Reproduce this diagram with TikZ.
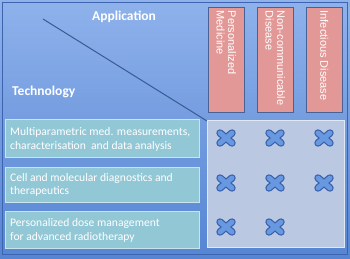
\documentclass[tikz,border=0pt]{standalone}
\usepackage{fontspec}
\setmainfont{Carlito}
\newfontfamily\arialf{Liberation Sans}
\definecolor{bgtop}{RGB}{143,178,235}
\definecolor{bgbot}{RGB}{86,133,211}
\definecolor{frameblue}{RGB}{62,100,175}
\definecolor{tealfill}{RGB}{146,199,214}
\definecolor{tealedge}{RGB}{200,228,236}
\definecolor{pinkfill}{RGB}{226,152,150}
\definecolor{pinkedge}{RGB}{72,98,150}
\definecolor{gridfill}{RGB}{186,200,226}
\definecolor{gridedge}{RGB}{225,232,245}
\definecolor{crossfill}{RGB}{104,152,224}
\definecolor{crossedge}{RGB}{55,95,170}
\definecolor{diagline}{RGB}{58,90,150}
\tikzset{
  techbox/.style={fill=tealfill, draw=tealedge, line width=0.8pt},
  appbox/.style={fill=pinkfill, draw=pinkedge, line width=0.8pt},
  techtext/.style={text=white, font=\fontsize{11.6}{13.5}\selectfont, align=left, anchor=west, inner sep=0pt},
  apptext/.style={text=white, font=\arialf\fontsize{11}{11.5}\selectfont, align=left, anchor=west, rotate=-90, inner sep=0pt},
  headtext/.style={text=white, font=\bfseries\fontsize{13.5}{15}\selectfont, inner sep=0pt},
}
\newcommand{\xmark}[1]{%
  \draw[crossedge, line width=7.4pt, line cap=round] ($(#1)+(-6,-5)$) -- ($(#1)+(6,5)$) ($(#1)+(-6,5)$) -- ($(#1)+(6,-5)$);
  \draw[crossfill, line width=5pt, line cap=round] ($(#1)+(-6,-5)$) -- ($(#1)+(6,5)$) ($(#1)+(-6,5)$) -- ($(#1)+(6,-5)$);
}
\usetikzlibrary{calc}
\begin{document}
\begin{tikzpicture}[x=1pt,y=-1pt]
\useasboundingbox (0,0) rectangle (350,258);
% background
\fill[top color=bgtop, bottom color=bgbot] (0,0) rectangle (350,258);
\draw[frameblue, line width=1.3pt] (2.5,2.5) rectangle (347.5,254.5);
% diagonal
\coordinate (d1) at (43,19);
\coordinate (d2) at (207,121);
\draw[diagline, line width=1pt] (d1) -- (d2);
% headings
\node[headtext] (app) at (124,17) {Application};
\node[headtext, anchor=west] (tech) at (12,92) {Technology};
% application boxes
\node[appbox, minimum width=36pt, minimum height=105pt, anchor=north west] (pm) at (208,7) {};
\node[appbox, minimum width=36pt, minimum height=105pt, anchor=north west] (nc) at (257,7) {};
\node[appbox, minimum width=36pt, minimum height=105pt, anchor=north west] (id) at (306,7) {};
\node[apptext] (pmt) at ($(pm.north)+(0,3.5)$) {Personalized\\Medicine};
\node[apptext] (nct) at ($(nc.north)+(0,3.5)$) {Non-communicable\\Disease};
\node[apptext] (idt) at ($(id.north)+(0,3.5)$) {Infectious Disease};
% technology boxes
\node[techbox, minimum width=194pt, minimum height=38pt, anchor=north west] (t1) at (5,119) {};
\node[techbox, minimum width=194pt, minimum height=35pt, anchor=north west] (t2) at (5,167) {};
\node[techbox, minimum width=194pt, minimum height=37pt, anchor=north west] (t3) at (5,211) {};
\node[techtext] (t1t) at ($(t1.west)+(5,1)$) {Multiparametric med. measurements,\\characterisation\ \ and data analysis};
\node[techtext] (t2t) at ($(t2.west)+(5,0)$) {Cell and molecular diagnostics and\\therapeutics};
\node[techtext] (t3t) at ($(t3.west)+(5,0.5)$) {Personalized dose management\\for advanced radiotherapy};
% grid
\node[fill=gridfill, draw=gridedge, line width=1pt, minimum width=137pt, minimum height=127pt, anchor=north west] (grid) at (207,120) {};
\coordinate (c11) at (226,138); \coordinate (c12) at (275,138); \coordinate (c13) at (324,138);
\coordinate (c21) at (226,183); \coordinate (c22) at (275,183); \coordinate (c23) at (324,183);
\coordinate (c31) at (226,227); \coordinate (c32) at (275,227);
\xmark{c11}\xmark{c12}\xmark{c13}
\xmark{c21}\xmark{c22}\xmark{c23}
\xmark{c31}\xmark{c32}
\end{tikzpicture}
\end{document}
